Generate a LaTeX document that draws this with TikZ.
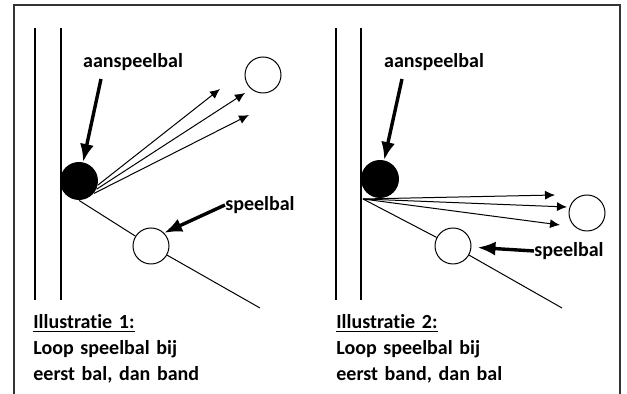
\documentclass[tikz,border=0pt]{standalone}
\usepackage{fontspec}
\setmainfont{Carlito}[Ligatures=NoCommon]
\usetikzlibrary{positioning,arrows.meta}

\tikzset{
  lbl/.style={font=\bfseries\fontsize{10}{12}\selectfont, inner sep=0pt},
  caption/.style={lbl, text width=95pt, align=left, text height=7.5pt, text depth=2pt},
  cueball/.style={circle, fill=black, minimum size=19pt, inner sep=0pt},
  objball/.style={circle, draw, line width=0.5pt, minimum size=18pt, inner sep=0pt},
  rail/.style={line width=0.8pt},
  track/.style={line width=0.5pt},
  shot/.style={line width=0.5pt, -{Latex[length=5pt,width=4.5pt]}},
  pointer/.style={line width=1.7pt, -{Latex[length=9pt,width=7pt]}},
}

\begin{document}
\begin{tikzpicture}[x=0.5pt,y=-0.5pt,node distance=3pt]
  \useasboundingbox (0,0) rectangle (627,394);
  \draw[line width=0.8pt, black!80] (14,394) -- (14,5) -- (620,5) -- (620,394);

  % Illustratie 1
  \draw[rail] (35,28) -- (35,300);
  \draw[rail] (61,28) -- (61,300);
  \node (cue1) [cueball] at (79,181) {};
  \node (obj1) [objball] at (151,246) {};
  \node (aim1) [objball] at (263,75) {};
  \node (aan1) [lbl] at (133,62) {aanspeelbal};
  \node (spl1) [lbl] at (260,205) {speelbal};
  \coordinate (tip1a) at (220,89);
  \coordinate (tip1b) at (245,93);
  \coordinate (tip1c) at (249,115);
  \coordinate (end1) at (260,308);
  \draw[shot] (cue1.-12) -- (tip1a);
  \draw[shot] (cue1.-25) -- (tip1b);
  \draw[shot] (cue1.-40) -- (tip1c);
  \draw[track] (cue1.south) -- (obj1) -- (end1);
  \draw[pointer] ([xshift=-16pt,yshift=-4pt]aan1.south) -- (cue1);
  \draw[pointer] (spl1.west) -- (obj1.45);

  \node (cap1)  [caption, anchor=west] at (33,323) {\underline{Illustratie 1:}};
  \node (cap1b) [caption, below=of cap1]  {Loop speelbal bij};
  \node (cap1c) [caption, below=of cap1b] {eerst bal, dan band};

  % Illustratie 2
  \draw[rail] (336,28) -- (336,300);
  \draw[rail] (361,28) -- (361,300);
  \node (cue2) [cueball] at (380,179) {};
  \node (obj2) [objball] at (453,246) {};
  \node (aim2) [objball] at (587,213) {};
  \node (aan2) [lbl] at (434,62) {aanspeelbal};
  \node (spl2) [lbl] at (569,251) {speelbal};
  \coordinate (hit2) at (363,199);
  \coordinate (tip2a) at (555,195);
  \coordinate (tip2b) at (567,207);
  \coordinate (tip2c) at (560,225);
  \coordinate (end2) at (562,308);
  \draw[shot] (hit2) -- (tip2a);
  \draw[shot] (hit2) -- (tip2b);
  \draw[shot] (hit2) -- (tip2c);
  \draw[track] (hit2) -- (obj2) -- (end2);
  \draw[pointer] ([xshift=-16pt,yshift=-4pt]aan2.south) -- (cue2);
  \draw[pointer, shorten >=3pt] (spl2.west) -- (obj2);

  \node (cap2)  [caption, anchor=west] at (336,323) {\underline{Illustratie 2:}};
  \node (cap2b) [caption, below=of cap2]  {Loop speelbal bij};
  \node (cap2c) [caption, below=of cap2b] {eerst band, dan bal};
\end{tikzpicture}
\end{document}
